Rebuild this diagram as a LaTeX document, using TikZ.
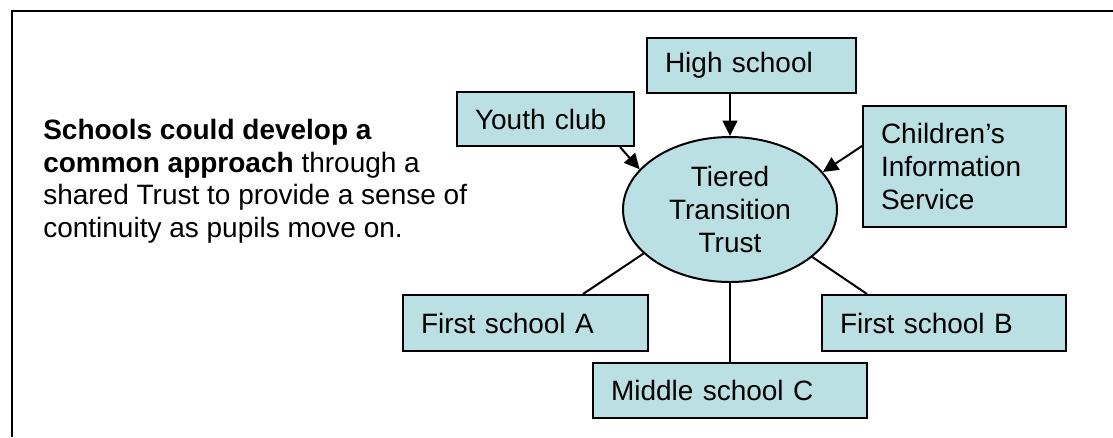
\documentclass[tikz,border=0pt]{standalone}
\usepackage{fontspec}
\setmainfont{Liberation Sans}
\usetikzlibrary{calc,positioning}
\usetikzlibrary{shapes}
\usetikzlibrary{arrows.meta}
\usepackage{xcolor}
\definecolor{trustblue}{RGB}{187,224,227}

\begin{document}
\begin{tikzpicture}[x=0.75pt, y=-0.75pt,
	every node/.style = {font=\fontsize{21}{24.5}\selectfont},
	box/.style = {draw, fill=trustblue, line width=1.5pt, inner xsep=13.5pt, inner ysep=0pt, align=left},
	trust/.style = {draw, ellipse, fill=trustblue, line width=1.5pt, inner sep=0pt, align=center, minimum width=160.5pt, minimum height=108.75pt},
	arr/.style = {line width=1.5pt, -{Triangle[length=11.5pt, width=11pt]}},
	lnk/.style = {line width=1.5pt}]
	\useasboundingbox (0,0) rectangle (1113,437);
	\draw[line width=1.5pt] (12,437) -- (12,11) -- (1113,11);
	\node[anchor=north west, inner sep=0pt, align=left] (intro) at (43,119) {\textbf{Schools could develop a}\\\textbf{common approach} through a\\shared Trust to provide a sense of\\continuity as pupils move on.};
	\node[trust] (trust) at (730,209.5) {Tiered\\Transition\\Trust};
	\node[box, text width=129.75pt, minimum height=41.25pt] (hs) at (751.5,65.5) {High school};
	\node[box, text width=105.75pt, minimum height=40.5pt] (yc) at (545.5,119) {Youth club};
	\node[box, text width=125.25pt, minimum height=90.75pt] (cis) at (964.5,166.5) {Children’s\\Information\\Service};
	\node[box, text width=156.75pt, minimum height=42pt] (fa) at (525.5,323) {First school A};
	\node[box, text width=178.5pt, minimum height=41.25pt] (mc) at (730,390.5) {Middle school C};
	\node[box, text width=156pt, minimum height=42pt] (fb) at (944,323) {First school B};
	\draw[arr] (hs.south -| trust.north) -- (trust.north);
	\draw[arr] ($(yc.south east)+(-15,0)$) -- (trust.156);
	\draw[arr] ($(cis.north west)+(0,41)$) -- (trust.22);
	\draw[lnk] ($(fa.north east)+(-66,0)$) -- (trust.207);
	\draw[lnk] (trust.south) -- (mc.north);
	\draw[lnk] ($(fb.north west)+(46,0)$) -- (trust.330);
\end{tikzpicture}
\end{document}
